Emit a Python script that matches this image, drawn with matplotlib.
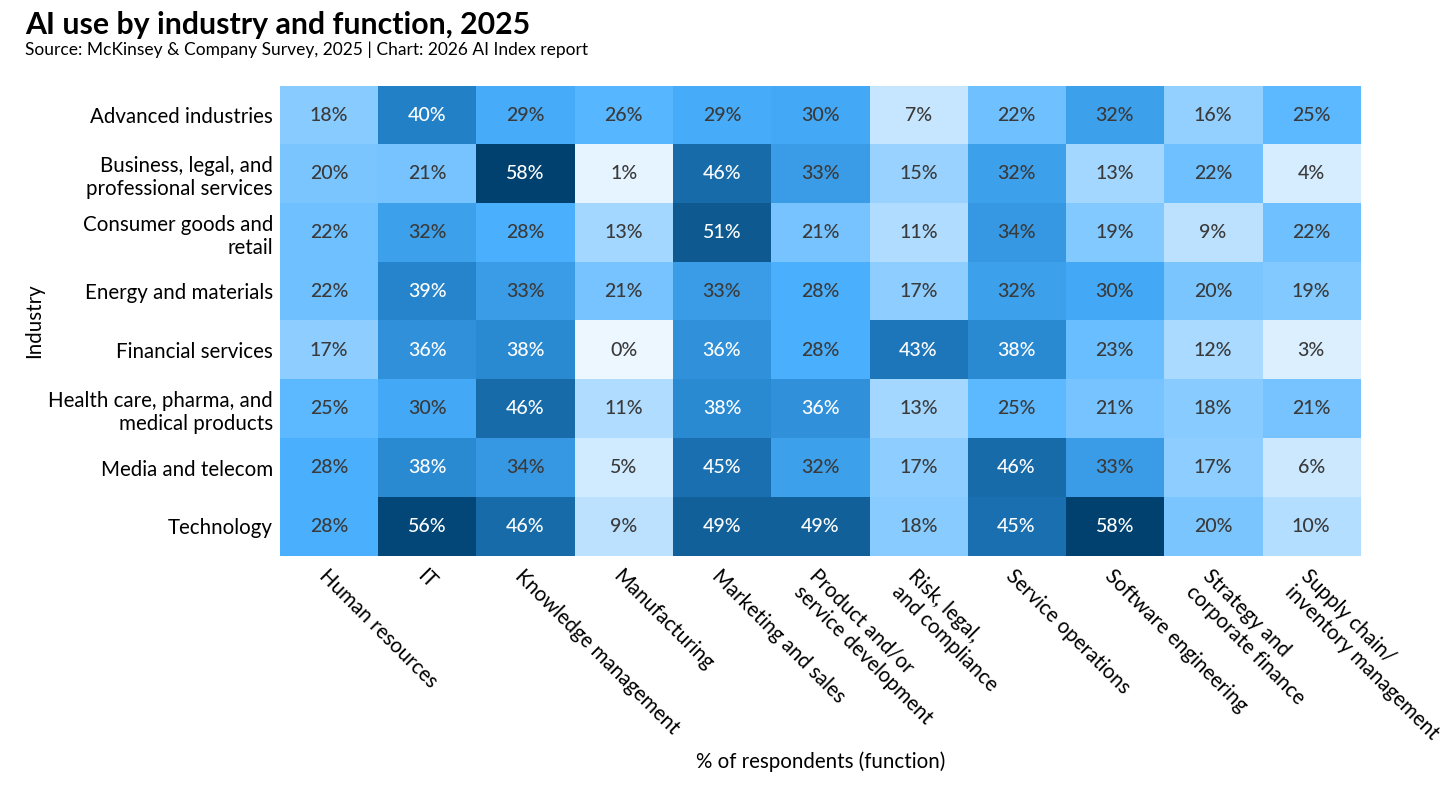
import matplotlib.pyplot as plt
import numpy as np
from matplotlib.colors import LinearSegmentedColormap

plt.rcParams["font.family"] = ["Lato", "DejaVu Sans"]

industries = [
    "Advanced industries",
    "Business, legal, and\nprofessional services",
    "Consumer goods and\nretail",
    "Energy and materials",
    "Financial services",
    "Health care, pharma, and\nmedical products",
    "Media and telecom",
    "Technology",
]

functions = [
    "Human resources",
    "IT",
    "Knowledge management",
    "Manufacturing",
    "Marketing and sales",
    "Product and/or\nservice development",
    "Risk, legal,\nand compliance",
    "Service operations",
    "Software engineering",
    "Strategy and\ncorporate finance",
    "Supply chain/\ninventory management",
]

# % of respondents, one row per industry
advanced = [18, 40, 29, 26, 29, 30, 7, 22, 32, 16, 25]
business = [20, 21, 58, 1, 46, 33, 15, 32, 13, 22, 4]
consumer = [22, 32, 28, 13, 51, 21, 11, 34, 19, 9, 22]
energy = [22, 39, 33, 21, 33, 28, 17, 32, 30, 20, 19]
financial = [17, 36, 38, 0, 36, 28, 43, 38, 23, 12, 3]
health = [25, 30, 46, 11, 38, 36, 13, 25, 21, 18, 21]
media = [28, 38, 34, 5, 45, 32, 17, 46, 33, 17, 6]
technology = [28, 56, 46, 9, 49, 49, 18, 45, 58, 20, 10]

values = np.array([advanced, business, consumer, energy,
                   financial, health, media, technology])

cmap = LinearSegmentedColormap.from_list(
    "ai_blues",
    [(0.0, "#ecf7ff"), (0.30, "#8ccdff"), (0.48, "#4bb1ff"),
     (0.69, "#2381c8"), (1.0, "#00416f")],
)

fig = plt.figure(figsize=(14.56, 7.86), dpi=100)
ax = fig.add_axes([0.1923, 0.293, 0.742, 0.598])

ax.imshow(values, cmap=cmap, vmin=0, vmax=58, aspect="auto")

for i in range(values.shape[0]):
    for j in range(values.shape[1]):
        v = values[i, j]
        ax.text(j, i, f"{v}%", ha="center", va="center", fontsize=14,
                fontweight="medium",
                color="white" if v >= 35 else "#3a3a3a")

ax.set_xticks(np.arange(len(functions)))
ax.set_xticklabels(functions, rotation=-45, ha="left", va="top",
                   rotation_mode="anchor", fontsize=14.8)
ax.set_yticks(np.arange(len(industries)))
ax.set_yticklabels(industries, fontsize=14.8, ha="right", ma="right")
ax.tick_params(axis="y", length=0, pad=5)
ax.tick_params(axis="x", length=0, pad=7)
for s in ax.spines.values():
    s.set_visible(False)

ax.set_xlabel("% of respondents (function)", fontsize=14.8, labelpad=6)
ax.set_ylabel("Industry", fontsize=14.8, labelpad=3)

fig.text(0.017, 0.968, "AI use by industry and function, 2025",
         fontsize=21.8, fontweight="bold", va="center")
fig.text(0.017, 0.937,
         "Source: McKinsey & Company Survey, 2025 | Chart: 2026 AI Index report",
         fontsize=12.5, va="center")

fig.savefig("out.png", dpi=100)
